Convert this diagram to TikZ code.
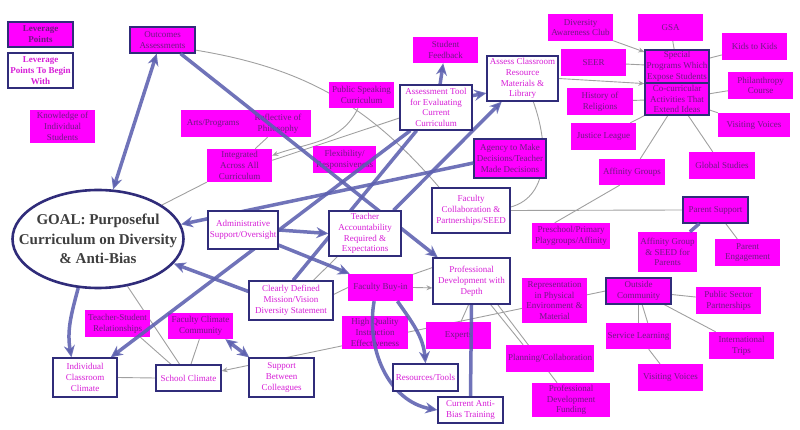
\documentclass[tikz,border=0pt]{standalone}
\usepackage{fontspec}
\setmainfont{Liberation Serif}
\usepackage{xcolor}
\usetikzlibrary{positioning}
\usetikzlibrary{arrows.meta}
\usetikzlibrary{shapes.geometric}
\pgfdeclarelayer{back}
\pgfdeclarelayer{front}
\pgfsetlayers{back,main,front}
\definecolor{magbox}{RGB}{255,0,255}
\definecolor{lvtext}{RGB}{110,25,130}
\definecolor{bgtext}{RGB}{215,30,215}
\definecolor{edgeblue}{RGB}{48,44,122}
\definecolor{pushblue}{RGB}{92,96,175}
\definecolor{linkgray}{RGB}{160,160,160}
\definecolor{goaltext}{RGB}{62,62,62}
\tikzset{
	box/.style 2 args={minimum width=#1, minimum height=#2, inner sep=0.5pt, align=center, font=\fontsize{9}{10.8}\selectfont},
	lever/.style={fill=magbox, text=lvtext},
	leverb/.style={lever, draw=edgeblue, line width=1.2pt},
	firstpt/.style={fill=white, draw=edgeblue, line width=1.2pt, text=bgtext},
	link/.style={draw=linkgray, line width=0.9pt},
	linkto/.style={link, -{Stealth[length=6pt,width=5pt]}},
	push/.style={draw=pushblue, line width=3.5pt, opacity=0.88, -{Stealth[length=12pt,width=11pt]}},
	pushboth/.style={push, {Stealth[length=12pt,width=11pt]}-{Stealth[length=12pt,width=11pt]}},
}
\begin{document}
\begin{tikzpicture}[x=1pt,y=1pt]
	\useasboundingbox (0,0) rectangle (800,-430);
	
	\node[leverb, box={65}{25}, font=\fontsize{9}{10.8}\selectfont\bfseries] (levpts) at (40.5,-34.5) {Leverage\\Points};
	\node[lever, box={65}{33}] (knowledge) at (62.5,-126.5) {Knowledge of\\Individual\\Students};
	\node[leverb, box={65}{26}] (outcomes) at (162.5,-40) {Outcomes\\Assessments};
	\node[lever, box={64}{27}] (arts) at (213,-123.5) {Arts/Programs};
	\node[lever, box={66}{27}] (reflect) at (278,-123.5) {Reflective of\\Philosophy};
	\node[lever, box={65}{33}] (integrated) at (239.5,-165.5) {Integrated\\Across All\\Curriculum};
	\node[lever, box={65}{26}] (publicsp) at (361.5,-95) {Public Speaking\\Curriculum};
	\node[lever, box={63}{27}] (flex) at (344.5,-159.5) {Flexibility/\\Responsiveness};
	\node[lever, box={65}{26}] (studentfb) at (445.5,-50) {Student\\Feedback};
	\node[leverb, box={72}{39}] (agency) at (510,-158.5) {Agency to Make\\Decisions/Teacher\\Made Decisions};
	
	\node[lever, box={65}{27}] (diversity) at (580.5,-27.5) {Diversity\\Awareness Club};
	\node[lever, box={65}{27}] (gsa) at (670.5,-27.5) {GSA};
	\node[lever, box={65}{27}] (kids) at (754.5,-46.5) {Kids to Kids};
	\node[lever, box={65}{27}] (seer) at (593.5,-62.5) {SEER};
	\node[leverb, box={64}{33}] (special) at (677,-66.5) {Special\\Programs Which\\Expose Students};
	\node[leverb, box={64}{32}] (cocurr) at (677,-99) {Co-curricular\\Activities That\\Extend Ideas};
	\node[lever, box={65}{27}] (philanth) at (760.5,-85.5) {Philanthropy\\Course};
	\node[lever, box={66}{27}] (history) at (600,-101.5) {History of\\Religions};
	\node[lever, box={72}{24}] (visiting1) at (754,-125) {Visiting Voices};
	\node[lever, box={65}{27}] (justice) at (603.5,-136.5) {Justice League};
	\node[lever, box={66}{26}] (affinity) at (632,-172) {Affinity Groups};
	\node[lever, box={66}{27}] (global) at (722,-165.5) {Global Studies};
	\node[lever, box={78}{26}] (preschool) at (571,-236) {Preschool/Primary\\Playgroups/Affinity};
	\node[leverb, box={65}{26}] (parentsup) at (715.5,-210) {Parent Support};
	\node[lever, box={59}{40}] (affseed) at (667.5,-252) {Affinity Group\\\& SEED for\\Parents};
	\node[lever, box={65}{27}] (parenteng) at (747.5,-252.5) {Parent\\Engagement};
	
	\node[lever, box={65}{45}] (represent) at (554.5,-300.5) {Representation\\in Physical\\Environment \&\\Material};
	\node[leverb, box={65}{26}] (outside) at (638.5,-291) {Outside\\Community};
	\node[lever, box={65}{27}] (publicsec) at (728.5,-300.5) {Public Sector\\Partnerships};
	\node[lever, box={65}{26}] (servicel) at (638.5,-336) {Service Learning};
	\node[lever, box={65}{27}] (intl) at (741.5,-345.5) {International\\Trips};
	\node[lever, box={65}{27}] (visiting2) at (670.5,-377.5) {Visiting Voices};
	\node[lever, box={88}{27}] (planning) at (550,-358.5) {Planning/Collaboration};
	\node[lever, box={78}{34}] (profund) at (571,-400) {Professional\\Development\\Funding};
	\node[lever, box={65}{27}] (experts) at (458.5,-335.5) {Experts};
	\node[lever, box={66}{33}] (highq) at (375,-332.5) {High Quality\\Instruction\\Effectiveness};
	\node[lever, box={65}{27}] (facbuyin) at (380.5,-287.5) {Faculty Buy-in};
	\node[lever, box={65}{27}] (teachstud) at (117.5,-323.5) {Teacher-Student\\Relationships};
	\node[lever, box={65}{26}] (facclim) at (200.5,-326) {Faculty Climate\\Community};
	
	\begin{pgfonlayer}{front}
		\node[firstpt, box={65}{35}, font=\fontsize{9}{10.8}\selectfont\bfseries] (levbegin) at (40.5,-70.5) {Leverage\\Points To Begin\\With};
		\node[firstpt, box={72}{45}] (assesstool) at (436,-107.5) {Assessment Tool\\for Evaluating\\Current\\Curriculum};
		\node[firstpt, box={71}{45}] (assessclass) at (522.5,-78.5) {Assess Classroom\\Resource\\Materials \&\\Library};
		\node[firstpt, box={78}{45}] (faccollab) at (471,-210.5) {Faculty\\Collaboration \&\\Partnerships/SEED};
		\node[firstpt, box={77}{46}] (profdev) at (471.5,-281) {Professional\\Development with\\Depth};
		\node[firstpt, box={65}{26}] (currentab) at (470.5,-410) {Current Anti-\\Bias Training};
		\node[firstpt, box={65}{27}] (resources) at (425.5,-377.5) {Resources/Tools};
		\node[firstpt, box={72}{45}] (teacheracc) at (365,-233.5) {Teacher\\Accountability\\Required \&\\Expectations};
		\node[firstpt, box={70}{38}] (admin) at (243,-230) {Administrative\\Support/Oversight};
		\node[firstpt, box={84}{39}] (mission) at (291,-300.5) {Clearly Defined\\Mission/Vision\\Diversity Statement};
		\node[firstpt, box={64}{39}] (indiv) at (85,-377.5) {Individual\\Classroom\\Climate};
		\node[firstpt, box={65}{26}] (school) at (188.5,-378) {School Climate};
		\node[firstpt, box={65}{39}] (supportcol) at (281.5,-377.5) {Support\\Between\\Colleagues};
		\node[ellipse, draw=edgeblue, line width=2.6pt, fill=white, minimum width=171, minimum height=98, inner sep=0pt] (goal) at (98,-239) {};
		\node[align=center, text=goaltext, font=\fontsize{15}{19.5}\selectfont\bfseries] (goaltxt) at (goal) {GOAL: Purposeful\\Curriculum on Diversity\\\& Anti-Bias};
	\end{pgfonlayer}
	
	\begin{pgfonlayer}{back}
		\draw[link] (outcomes.-17) to[bend left=20] (faccollab.144);
		\draw[linkto] (publicsp.-105) to[out=-115,in=20] (integrated.17);
		\draw[link] (assesstool.196) -- (integrated.9);
		\draw[link] (reflect.233) -- (integrated.47);
		\draw[link] (integrated.207) -- (goal.28);
		\draw[link] (goal.-58) -- (school.123);
		\draw[link] (teachstud.-31) -- (school.142);
		\draw[link] (facclim.-95) -- (school.80);
		\draw[link] (indiv.east) -- (school.west);
		\draw[linkto] (outside.west) -- (school.12);
		\draw[link] (mission.42) -- (teacheracc.220);
		\draw[link] (mission.8) -- (facbuyin.west);
		\draw[linkto] (facbuyin.east) -- (profdev.190);
		\draw[link] (facbuyin.22) -- (profdev.161);
		\draw[link] (profdev.-97) -- (experts.80);
		\draw[link] (profdev.-51) -- (planning.153);
		\draw[link] (profdev.-42) -- (profund.129);
		\draw[link] (faccollab.5) to[out=15,in=-70] (assessclass.-65);
		\draw[link] (faccollab.east) -- (parentsup.west);
		\draw[link] (preschool.141) -- (affinity.227);
		\draw[link] (affinity.58) -- (cocurr.241);
		\draw[linkto] (diversity.-22) -- (special.156);
		\draw[linkto] (assessclass.east) -- (special.south west);
		\foreach \n in {seer,gsa,kids}
			\draw[link] (\n) -- (special);
		\foreach \n in {philanth,history,visiting1,justice,global}
			\draw[link] (\n) -- (cocurr);
		\draw[link] (parentsup) -- (parenteng);
		\draw[link] (outside) -- (publicsec);
		\draw[link] (outside.south) -- (servicel.north);
		\draw[link] (outside.-75) -- (servicel.55);
		\draw[link] (outside) -- (intl);
		\draw[link] (servicel) -- (visiting2);
	\end{pgfonlayer}
	
	\draw[pushboth] (goal.73) -- (outcomes.-113);
	\draw[push] (outcomes.-37) -- (profdev.145);
	\draw[push] (agency.187) -- (goal.10);
	\draw[push] (admin.east) -- (teacheracc.west);
	\draw[push] (admin.-23) -- (facbuyin.156);
	\draw[push] (assesstool.222) -- (indiv.38);
	\draw[push,-] (mission.84) -- (assesstool.230);
	\draw[push] (mission.168) -- (goal.-18);
	\draw[push] (teacheracc.39) -- (assessclass.228);
	\draw[push] (assesstool.80) -- (studentfb.-100);
	\draw[push] (assesstool.18) -- (assessclass.202);
	\draw[push] (facbuyin.-39) to[out=-55,in=95] (resources.north);
	\draw[push] (facbuyin.-115) to[out=-100,in=170] (currentab.west);
	\draw[push,-] (profdev.south) -- (currentab.north);
	\draw[push] (goal.-112) to[out=-105,in=100] (indiv.124);
	\draw[pushboth] (facclim.-28) -- (supportcol.148);
	\draw[push,-] (parentsup.220) -- (affseed.42);
\end{tikzpicture}
\end{document}
